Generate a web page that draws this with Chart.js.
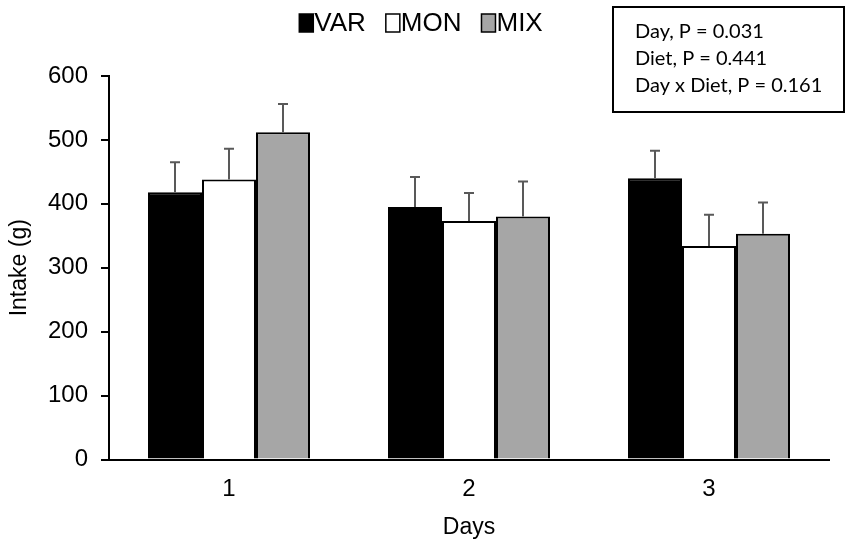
<!DOCTYPE html>
<html lang="en">
<head>
    <meta charset="UTF-8">
    <title>Intake by Day and Diet</title>
    <script src="https://cdn.jsdelivr.net/npm/chart.js"></script>
    <style>
        body { margin: 0; background: #fff; }
        canvas { display: block; }
    </style>
</head>
<body>
    <canvas id="intakeChart" width="851" height="548"></canvas>

    <script>
        // Data
        const days = ['1', '2', '3'];
        const varIntake = [418, 395, 440];
        const monIntake = [438, 373, 334];
        const mixIntake = [512, 380, 353];
        const varErr = [47, 47, 43];
        const monErr = [48, 44, 49];
        const mixErr = [44, 55, 49];
        const statsLines = ['Day, P = 0.031', 'Diet, P = 0.441', 'Day x Diet, P = 0.161'];

        // Upward error bars, positioned through the y scale
        const errorBars = {
            id: 'errorBars',
            afterDatasetsDraw(chart) {
                const ctx = chart.ctx;
                const yScale = chart.scales.y;
                ctx.save();
                ctx.strokeStyle = '#595959';
                ctx.lineWidth = 2;
                chart.data.datasets.forEach((ds, i) => {
                    const meta = chart.getDatasetMeta(i);
                    meta.data.forEach((bar, j) => {
                        const top = yScale.getPixelForValue(ds.data[j] + ds.errors[j]);
                        ctx.beginPath();
                        ctx.moveTo(bar.x, bar.y);
                        ctx.lineTo(bar.x, top);
                        ctx.moveTo(bar.x - 5, top);
                        ctx.lineTo(bar.x + 5, top);
                        ctx.stroke();
                    });
                });
                ctx.restore();
            }
        };

        // Compact legend: box right against the label, like the original
        const compactLegend = {
            id: 'compactLegend',
            afterDraw(chart) {
                const ctx = chart.ctx;
                const boxW = 14, boxH = 18, gap = 1, itemGap = 20;
                ctx.save();
                ctx.font = '26px "Liberation Sans", Arial, sans-serif';
                ctx.textBaseline = 'middle';
                const items = chart.data.datasets.map(ds => ({
                    ds: ds,
                    w: boxW + gap + ctx.measureText(ds.label).width
                }));
                const total = items.reduce((s, it) => s + it.w, 0) + itemGap * (items.length - 1);
                let x = 421 - total / 2;
                const cy = 23;
                items.forEach(it => {
                    ctx.fillStyle = it.ds.backgroundColor;
                    ctx.fillRect(x, cy - boxH / 2, boxW, boxH);
                    ctx.strokeStyle = '#000';
                    ctx.lineWidth = 1.5;
                    ctx.strokeRect(x, cy - boxH / 2, boxW, boxH);
                    ctx.fillStyle = '#000';
                    ctx.fillText(it.ds.label, x + boxW + gap, cy + 1);
                    x += it.w + itemGap;
                });
                ctx.restore();
            }
        };

        // Statistics box in the top right corner
        const statsBox = {
            id: 'statsBox',
            afterDraw(chart) {
                const ctx = chart.ctx;
                ctx.save();
                ctx.strokeStyle = '#000';
                ctx.lineWidth = 2;
                ctx.strokeRect(613, 7, 231, 105);
                ctx.fillStyle = '#000';
                ctx.font = '20px Lato, "Open Sans", sans-serif';
                ctx.textBaseline = 'alphabetic';
                statsLines.forEach((line, i) => {
                    ctx.fillText(line, 635, 38 + i * 27);
                });
                ctx.restore();
            }
        };

        const ctx = document.getElementById('intakeChart').getContext('2d');
        new Chart(ctx, {
            type: 'bar',
            data: {
                labels: days,
                datasets: [
                    { label: 'VAR', data: varIntake, errors: varErr, backgroundColor: '#000000' },
                    { label: 'MON', data: monIntake, errors: monErr, backgroundColor: '#ffffff' },
                    { label: 'MIX', data: mixIntake, errors: mixErr, backgroundColor: '#a6a6a6' }
                ].map(ds => Object.assign(ds, {
                    borderColor: '#000',
                    borderWidth: 2,
                    categoryPercentage: 0.675,
                    barPercentage: 1.0
                }))
            },
            options: {
                responsive: false,
                animation: false,
                layout: { padding: { top: 76, right: 22, bottom: 0, left: 0 } },
                plugins: {
                    legend: { display: false },
                    tooltip: { enabled: false }
                },
                scales: {
                    x: {
                        grid: { display: false },
                        border: { display: true, color: '#000', width: 2 },
                        ticks: {
                            color: '#000',
                            padding: 7,
                            font: { family: '"Liberation Sans", Arial', size: 24 }
                        },
                        title: {
                            display: true,
                            text: 'Days',
                            color: '#000',
                            padding: { top: 0, bottom: 7 },
                            font: { family: '"Liberation Sans", Arial', size: 23 }
                        },
                        afterFit(scale) { scale.height = 88.5; }
                    },
                    y: {
                        min: 0,
                        max: 600,
                        grid: {
                            display: true,
                            drawOnChartArea: false,
                            drawTicks: true,
                            tickLength: 8,
                            color: '#000',
                            lineWidth: 2
                        },
                        border: { display: true, color: '#000', width: 2 },
                        ticks: {
                            stepSize: 100,
                            color: '#000',
                            padding: 13,
                            font: { family: '"Liberation Sans", Arial', size: 24 }
                        },
                        title: {
                            display: true,
                            text: 'Intake (g)',
                            color: '#000',
                            padding: { top: 6, bottom: 0 },
                            font: { family: '"Liberation Sans", Arial', size: 23 }
                        },
                        afterFit(scale) { scale.width = 109; }
                    }
                }
            },
            plugins: [errorBars, compactLegend, statsBox]
        });
    </script>
</body>
</html>
